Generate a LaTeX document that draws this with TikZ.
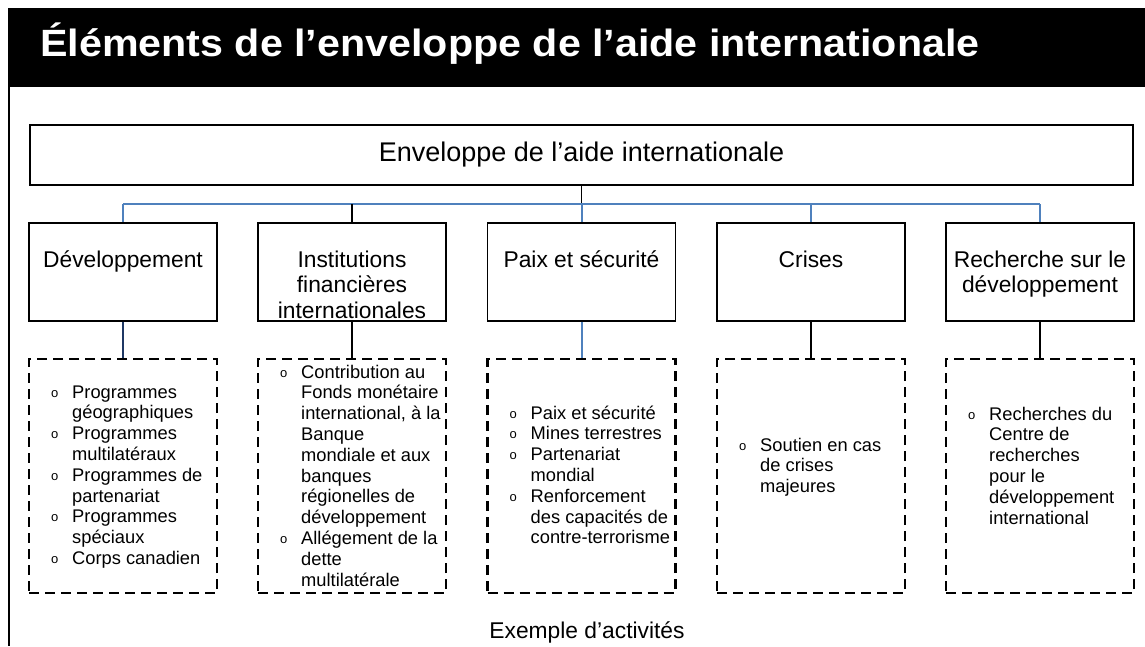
\documentclass[tikz,border=0pt]{standalone}
\usepackage{fontspec}
\setmainfont{Liberation Sans}
\definecolor{busblue}{RGB}{79,129,189}
\definecolor{navyline}{RGB}{31,56,100}
\tikzset{
  catbox/.style={draw=black, line width=1.8pt, minimum width=188pt, minimum height=98pt, inner sep=0pt},
  lstbox/.style={draw=black, line width=2.6pt, dash pattern=on 10pt off 6pt, minimum width=188pt, minimum height=234pt, inner sep=0pt},
  cattext/.style={anchor=north, inner sep=0pt, align=center, font=\fontsize{22.8}{25.5}\selectfont},
  lsttext/.style={anchor=north west, inner sep=0pt, align=left, font=\fontsize{18.3}{20.8}\selectfont},
  bk/.style={draw=black, line width=1.8pt},
  bl/.style={draw=busblue, line width=2pt},
  nv/.style={draw=navyline, line width=1.5pt},
}
\newcommand{\bul}{\makebox[21pt][l]{\raisebox{1pt}{\fontsize{13}{13}\selectfont o}}}
\newcommand{\ind}{\makebox[21pt]{}}
\begin{document}
\begin{tikzpicture}[x=1pt,y=-1pt]
\useasboundingbox (0,0) rectangle (1145,646);
% title band
\fill[black] (8,8) rectangle (1145,87);
\draw[black, line width=2pt] (9,87) -- (9,646);
\node[anchor=base west, inner sep=0pt, text=white, font=\fontsize{38}{40}\selectfont\bfseries] (title) at (40,56) {\scalebox{1.085}[1]{Éléments de l’enveloppe de l’aide internationale}};
% header box
\node[draw=black, line width=1.8pt, minimum width=1103pt, minimum height=60pt, inner sep=0pt, font=\fontsize{27}{30}\selectfont] (env) at (581.5,155) {Enveloppe de l’aide internationale};
\coordinate (bus) at (581.5,204);
% category boxes
\node[catbox] (b1) at (123,272) {};
\node[catbox] (b2) at (352,272) {};
\node[catbox] (b3) at (581.5,272) {};
\node[catbox] (b4) at (811,272) {};
\node[catbox] (b5) at (1040,272) {};
\node[cattext] (t1) at (123,249.15) {\strut Développement};
\node[cattext] (t2) at (352,249.15) {\strut Institutions\\financières\\internationales};
\node[cattext] (t3) at (581.5,249.15) {\strut Paix et sécurité};
\node[cattext] (t4) at (811,249.15) {\strut Crises};
\node[cattext] (t5) at (1040,249.15) {\strut Recherche sur le\\développement};
% list boxes
\node[lstbox] (l1) at (123,476) {};
\node[lstbox] (l2) at (352,476) {};
\node[lstbox] (l3) at (581.5,476) {};
\node[lstbox] (l4) at (811,476) {};
\node[lstbox] (l5) at (1040,476) {};
\node[lsttext] (s1) at (51,383.4) {\strut\bul Programmes\\\ind géographiques\\\bul Programmes\\\ind multilatéraux\\\bul Programmes de\\\ind partenariat\\\bul Programmes\\\ind spéciaux\\\bul Corps canadien};
\node[lsttext] (s2) at (280,363.4) {\strut\bul Contribution au\\\ind Fonds monétaire\\\ind international, à la\\\ind Banque\\\ind mondiale et aux\\\ind banques\\\ind régionelles de\\\ind développement\\\bul Allégement de la\\\ind dette\\\ind multilatérale};
\node[lsttext] (s3) at (509.5,404.4) {\strut\bul Paix et sécurité\\\bul Mines terrestres\\\bul Partenariat\\\ind mondial\\\bul Renforcement\\\ind des capacités de\\\ind contre-terrorisme};
\node[lsttext] (s4) at (739,436.4) {\strut\bul Soutien en cas\\\ind de crises\\\ind majeures};
\node[lsttext] (s5) at (968,405.4) {\strut\bul Recherches du\\\ind Centre de\\\ind recherches\\\ind pour le\\\ind développement\\\ind international};
% footer
\node[anchor=base, inner sep=0pt, font=\fontsize{22.8}{25}\selectfont] (ex) at (587,638) {Exemple d’activités};
% connectors
\draw[bk] (env.south) -- (bus);
\draw[bl] (b1.north |- bus) -- (b5.north |- bus);
\draw[bl] (b1.north |- bus) -- (b1.north);
\draw[bk] (b2.north |- bus) -- (b2.north);
\draw[bl] (bus) -- (b3.north);
\draw[bl] (b4.north |- bus) -- (b4.north);
\draw[bl] (b5.north |- bus) -- (b5.north);
\draw[nv] (b1.south) -- (l1.north);
\draw[bk] (b2.south) -- (l2.north);
\draw[bl] (b3.south) -- (l3.north);
\draw[bk] (b4.south) -- (l4.north);
\draw[bk] (b5.south) -- (l5.north);
\end{tikzpicture}
\end{document}
